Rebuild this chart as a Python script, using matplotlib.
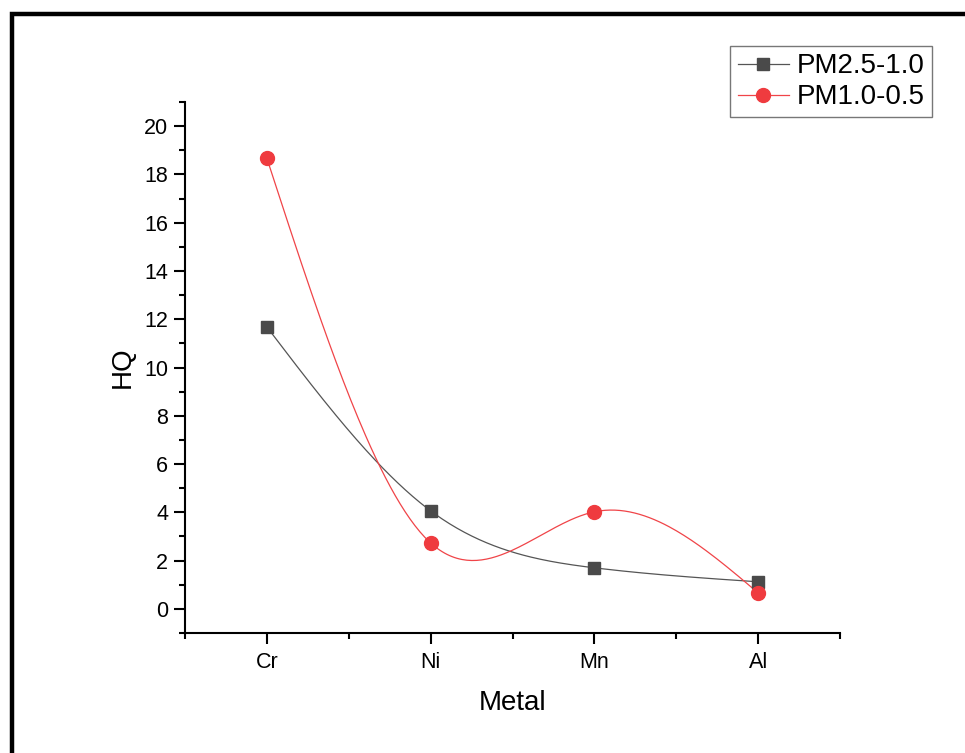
import numpy as np
import matplotlib
matplotlib.use("Agg")
import matplotlib.pyplot as plt
from matplotlib.patches import Rectangle
from matplotlib.ticker import MultipleLocator, FixedLocator

# =========================
# DATA
# =========================
metals = ["Cr", "Ni", "Mn", "Al"]
hq_pm25_10 = [11.68, 4.06, 1.70, 1.12]
hq_pm10_05 = [18.67, 2.73, 4.02, 0.66]

plt.rcParams["font.family"] = ["Liberation Sans", "DejaVu Sans"]


def natural_spline(x, y, n=200):
    # natural cubic spline through the points (only for drawing the connector)
    x = np.asarray(x, float)
    y = np.asarray(y, float)
    k = len(x)
    h = np.diff(x)
    A = np.zeros((k, k))
    b = np.zeros(k)
    A[0, 0] = A[-1, -1] = 1
    for i in range(1, k - 1):
        A[i, i - 1] = h[i - 1]
        A[i, i] = 2 * (h[i - 1] + h[i])
        A[i, i + 1] = h[i]
        b[i] = 6 * ((y[i + 1] - y[i]) / h[i] - (y[i] - y[i - 1]) / h[i - 1])
    M = np.linalg.solve(A, b)
    xs = np.linspace(x[0], x[-1], n)
    ys = np.empty_like(xs)
    for j, t in enumerate(xs):
        i = min(np.searchsorted(x, t, side="right") - 1, k - 2)
        a, c = x[i], x[i + 1]
        hi = h[i]
        ys[j] = (M[i] * (c - t) ** 3 / (6 * hi) + M[i + 1] * (t - a) ** 3 / (6 * hi)
                 + (y[i] / hi - M[i] * hi / 6) * (c - t)
                 + (y[i + 1] / hi - M[i + 1] * hi / 6) * (t - a))
    return xs, ys


fig = plt.figure(figsize=(9.65, 7.53), dpi=100)
ax = fig.add_axes([0.1917, 0.1594, 0.6788, 0.7051])

xpos = np.arange(1, len(metals) + 1)

series = [
    (hq_pm25_10, "PM2.5-1.0", "#4a4a4a", "#555555", "s", 9),
    (hq_pm10_05, "PM1.0-0.5", "#ef3b3f", "#f04448", "o", 10),
]
for vals, label, mcol, lcol, mk, ms in series:
    sx, sy = natural_spline(xpos, vals)
    ax.plot(sx, sy, color=lcol, lw=0.9, zorder=2)
    ax.plot(xpos, vals, linestyle="none", marker=mk, markersize=ms,
            color=mcol, zorder=3)
    # proxy for legend
    ax.plot([], [], color=lcol, lw=0.9, marker=mk, markersize=ms,
            markerfacecolor=mcol, markeredgecolor=mcol, label=label)

ax.set_xlim(0.5, 4.5)
ax.set_ylim(-1, 21)
ax.set_xticks(xpos)
ax.set_xticklabels(metals)
ax.xaxis.set_minor_locator(FixedLocator([0.5, 1.5, 2.5, 3.5, 4.5]))
ax.yaxis.set_major_locator(MultipleLocator(2))
ax.yaxis.set_minor_locator(MultipleLocator(1))

for side in ["top", "right"]:
    ax.spines[side].set_visible(False)
for side in ["left", "bottom"]:
    ax.spines[side].set_linewidth(1.5)

ax.tick_params(which="major", direction="out", length=8, width=1.5,
               labelsize=15.5, pad=4)
ax.tick_params(which="minor", direction="out", length=4.5, width=1.5)
ax.tick_params(axis="x", which="major", pad=6)

ax.set_xlabel("Metal", fontsize=20, labelpad=12)
ax.set_ylabel("HQ", fontsize=20, labelpad=6)

leg = ax.legend(loc="upper right", fontsize=20, frameon=True,
                fancybox=False, edgecolor="#555555", borderpad=0.26,
                handlelength=1.85, handletextpad=0.28, labelspacing=0.18,
                borderaxespad=0)
leg.get_frame().set_linewidth(1.0)
leg.set_bbox_to_anchor((932 / 965, 1 - 46 / 753), transform=fig.transFigure)

# outer frame (only top and left edges fall inside the picture)
fig.patches.append(Rectangle((11.5 / 965, -0.1), 1.2, 1.1 - 14 / 753,
                             transform=fig.transFigure, fill=False,
                             edgecolor="black", linewidth=3.2))

fig.savefig("out.png", dpi=100)
